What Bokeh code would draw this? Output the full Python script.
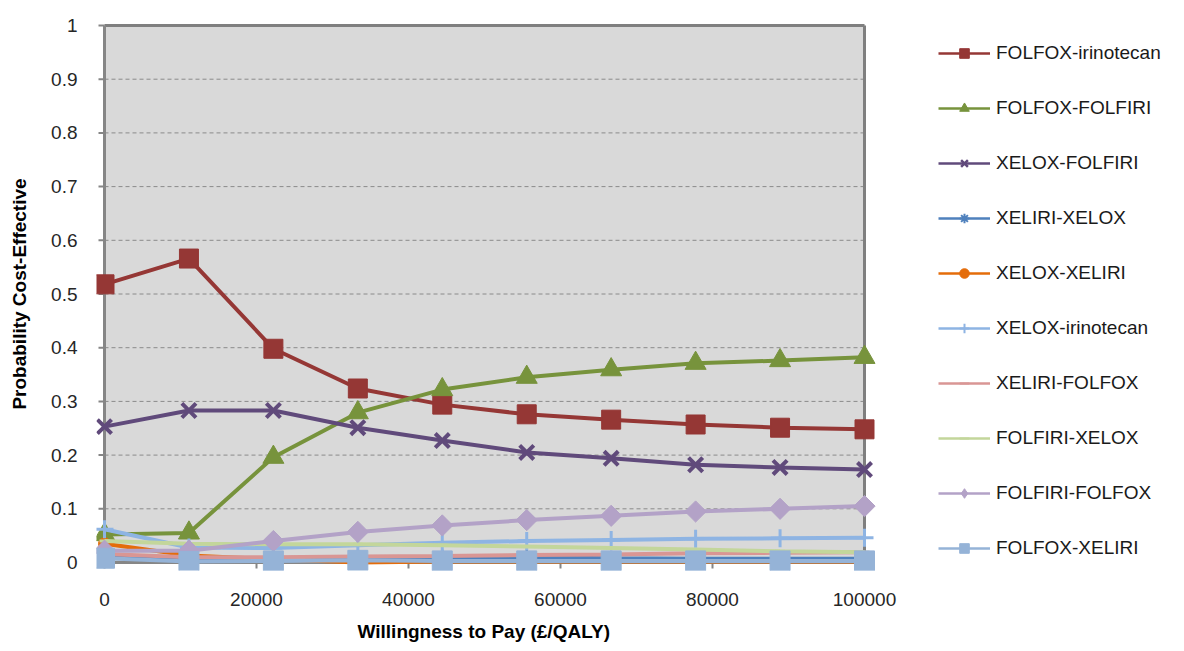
import math
from bokeh.plotting import figure
from bokeh.models import (ColumnDataSource, Range1d, FixedTicker, Legend,
                          LegendItem, Title)
from bokeh.embed import file_html
from bokeh.resources import INLINE

# ---------------- data ----------------
wtp = [0, 11111, 22222, 33333, 44444, 55556, 66667, 77778, 88889, 100000]

series_names = ["FOLFOX-irinotecan", "FOLFOX-FOLFIRI", "XELOX-FOLFIRI",
                "XELIRI-XELOX", "XELOX-XELIRI", "XELOX-irinotecan",
                "XELIRI-FOLFOX", "FOLFIRI-XELOX", "FOLFIRI-FOLFOX",
                "FOLFOX-XELIRI"]

folfox_irinotecan = [0.518, 0.566, 0.398, 0.324, 0.294, 0.276, 0.266, 0.257, 0.251, 0.248]
folfox_folfiri    = [0.052, 0.055, 0.196, 0.279, 0.322, 0.345, 0.359, 0.371, 0.376, 0.382]
xelox_folfiri     = [0.253, 0.283, 0.283, 0.251, 0.227, 0.205, 0.194, 0.182, 0.177, 0.173]
xeliri_xelox      = [0.012, 0.008, 0.007, 0.009, 0.010, 0.010, 0.008, 0.007, 0.007, 0.007]
xelox_xeliri      = [0.035, 0.013, 0.006, 0.000, 0.002, 0.002, 0.002, 0.002, 0.002, 0.002]
xelox_irinotecan  = [0.062, 0.028, 0.027, 0.032, 0.037, 0.040, 0.042, 0.044, 0.045, 0.046]
xeliri_folfox     = [0.016, 0.010, 0.010, 0.011, 0.012, 0.014, 0.015, 0.017, 0.018, 0.019]
folfiri_xelox     = [0.040, 0.035, 0.034, 0.034, 0.032, 0.030, 0.027, 0.024, 0.021, 0.019]
folfiri_folfox    = [0.022, 0.022, 0.040, 0.057, 0.069, 0.079, 0.087, 0.095, 0.100, 0.105]
folfox_xeliri     = [0.008, 0.002, 0.003, 0.004, 0.003, 0.003, 0.003, 0.003, 0.003, 0.003]

series_values = [folfox_irinotecan, folfox_folfiri, xelox_folfiri, xeliri_xelox,
                 xelox_xeliri, xelox_irinotecan, xeliri_folfox, folfiri_xelox,
                 folfiri_folfox, folfox_xeliri]

x_ticks = [0, 20000, 40000, 60000, 80000, 100000]
x_tick_labels = ["0", "20000", "40000", "60000", "80000", "100000"]
y_ticks = [0, 0.1, 0.2, 0.3, 0.4, 0.5, 0.6, 0.7, 0.8, 0.9, 1]
y_tick_labels = ["0", "0.1", "0.2", "0.3", "0.4", "0.5", "0.6", "0.7", "0.8", "0.9", "1"]

x_title = "Willingness to Pay (£/QALY)"
y_title = "Probability Cost-Effective"

# axis bounds of the plot area
x_min, x_max = 0, 100000
y_min, y_max = 0, 1

# ---------------- styles ----------------
FONT = "Liberation Sans"
styles = [
    dict(color="#953735", marker="square",   size=19, angle=0.0,         mlw=1,
         lmarker="square",   lsize=11, llw=1),
    dict(color="#77933C", marker="triangle", size=21, angle=0.0,         mlw=1,
         lmarker="triangle", lsize=13, llw=1),
    dict(color="#604A7B", marker="x",        size=20, angle=0.0,         mlw=4,
         lmarker="x",        lsize=10, llw=2.5),
    dict(color="#4F81BD", marker="asterisk", size=15, angle=0.0,         mlw=2.5,
         lmarker="asterisk", lsize=11, llw=2),
    dict(color="#E46C0A", marker="circle",   size=12, angle=0.0,         mlw=1,
         lmarker="circle",   lsize=10, llw=1),
    dict(color="#8EB4E3", marker="cross",    size=18, angle=0.0,         mlw=3,
         lmarker="cross",    lsize=12, llw=2),
    dict(color="#D99694", marker="dash",     size=10, angle=0.0,         mlw=3,
         lmarker="dash",     lsize=7,  llw=2),
    dict(color="#C3D69B", marker="dash",     size=10, angle=0.0,         mlw=3,
         lmarker="dash",     lsize=7,  llw=2),
    dict(color="#B3A2C7", marker="square",   size=15, angle=math.pi / 4, mlw=1,
         lmarker="diamond",  lsize=15, llw=1),
    dict(color="#95B3D7", marker="square",   size=20, angle=0.0,         mlw=1,
         lmarker="square",   lsize=11, llw=1),
]

# ---------------- geometry ----------------
px_per_x = 760 / (x_max - x_min)     # plot area 760 px wide
px_per_y = 537 / (y_max - y_min)     # plot area 537 px tall
pad = 8                               # margin around plot area inside frame
legend_px = 304                       # extra frame space to the right for legend

x_lo = x_min - pad / px_per_x
x_hi = x_max + (pad + legend_px) / px_per_x
y_lo = y_min - pad / px_per_y
y_hi = y_max + pad / px_per_y

frame_w = 760 + 2 * pad + legend_px
frame_h = 537 + 2 * pad

p = figure(frame_width=frame_w, frame_height=frame_h,
           x_range=Range1d(x_lo, x_hi), y_range=Range1d(y_lo, y_hi),
           output_backend="svg", toolbar_location=None,
           min_border_left=96, min_border_right=8, min_border_top=17,
           min_border_bottom=10)
p.outline_line_color = None
p.background_fill_color = "white"
p.border_fill_color = "white"
p.xgrid.visible = False
p.ygrid.visible = False

# plot area background
p.quad(left=[x_min], right=[x_max], bottom=[y_min], top=[y_max],
       fill_color="#d9d9d9", line_color=None)

# dashed gridlines
grid_y = [t for t in y_ticks if y_min < t < y_max]
p.segment(x0=[x_min] * len(grid_y), x1=[x_max] * len(grid_y), y0=grid_y, y1=grid_y,
          line_color="#8a8a8a", line_width=1, line_dash="4 3")

# top and right border of plot area
p.segment(x0=[x_min, x_max], x1=[x_max, x_max], y0=[y_max, y_min], y1=[y_max, y_max],
          line_color="#7f7f7f", line_width=3)

# tick marks
tick_len = 6
p.segment(x0=[x_min - tick_len / px_per_x] * len(y_ticks), x1=[x_min] * len(y_ticks),
          y0=y_ticks, y1=y_ticks, line_color="#868686", line_width=2)
p.segment(x0=x_ticks, x1=x_ticks, y0=[y_min] * len(x_ticks),
          y1=[y_min - tick_len / px_per_y] * len(x_ticks),
          line_color="#868686", line_width=2)

# axis lines
p.segment(x0=[x_min, x_min], x1=[x_min, x_max], y0=[y_min, y_min], y1=[y_max, y_min],
          line_color="#868686", line_width=3)

# ---------------- series ----------------
# legend proxies sit at one point outside the visible range (drawn only in the legend)
proxy_x = [x_hi * 2]
proxy_y = [y_min]

items = []
for name, vals, st in zip(series_names, series_values, styles):
    src = ColumnDataSource(dict(x=wtp, y=vals))
    p.line("x", "y", source=src, line_color=st["color"], line_width=4)
    p.scatter("x", "y", source=src, marker=st["marker"], size=st["size"],
              angle=st["angle"], fill_color=st["color"],
              line_color=st["color"], line_width=st["mlw"])
    proxy = ColumnDataSource(dict(x=proxy_x, y=proxy_y))
    lr = p.line("x", "y", source=proxy, line_color=st["color"], line_width=2.5)
    sr = p.scatter("x", "y", source=proxy, marker=st["lmarker"], size=st["lsize"],
                   fill_color=st["color"], line_color=st["color"],
                   line_width=st["llw"])
    items.append(LegendItem(label=name, renderers=[lr, sr]))

legend = Legend(items=items, location=(842, 10), orientation="vertical",
                glyph_width=52, glyph_height=24, label_height=24, spacing=31,
                label_standoff=6, padding=0, margin=0,
                border_line_color=None, background_fill_alpha=0,
                label_text_font=FONT, label_text_font_size="19px",
                label_text_color="#1a1a1a")
p.add_layout(legend)

# ---------------- axes ----------------
for ax in (p.xaxis, p.yaxis):
    ax.axis_line_color = None
    ax.major_tick_line_color = None
    ax.minor_tick_line_color = None
    ax.major_label_text_font = FONT
    ax.major_label_text_font_size = "19px"
    ax.major_label_text_color = "#262626"

p.xaxis.ticker = FixedTicker(ticks=x_ticks)
p.xaxis.major_label_overrides = dict(zip(x_ticks, x_tick_labels))
p.xaxis.major_label_standoff = 16

p.yaxis.ticker = FixedTicker(ticks=y_ticks)
p.yaxis.major_label_overrides = dict(zip(y_ticks, y_tick_labels))
p.yaxis.major_label_standoff = 13
p.yaxis.axis_label = y_title
p.yaxis.axis_label_text_font = FONT
p.yaxis.axis_label_text_font_size = "19px"
p.yaxis.axis_label_text_font_style = "bold"
p.yaxis.axis_label_text_color = "#000000"
p.yaxis.axis_label_standoff = 18

# x-axis title, centred under the plot area (not under the wider frame)
p.add_layout(Title(text=x_title, align="left", offset=pad + 253, standoff=20,
                   text_font=FONT, text_font_size="19px", text_font_style="bold",
                   text_color="#000000"), "below")

open("out.html", "w").write(file_html(p, INLINE))
